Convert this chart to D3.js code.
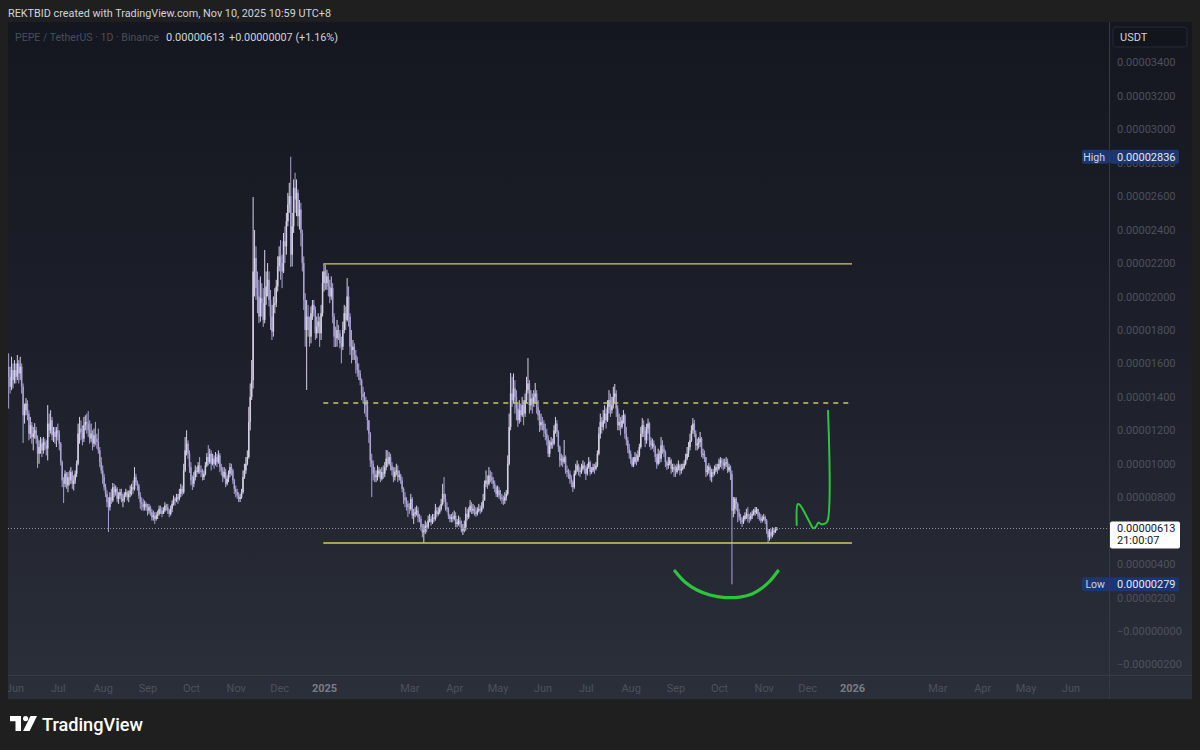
<!DOCTYPE html>
<html>
<head>
<meta charset="utf-8">
<script src="https://cdn.jsdelivr.net/npm/d3@7"></script>
<style>
  html, body { margin: 0; padding: 0; background: #1f1f1f; }
  svg { display: block; }
  text { font-family: Roboto, "Noto Sans", "Liberation Sans", sans-serif; }
</style>
</head>
<body>
<svg id="chart" width="1200" height="750"></svg>
<script>
// PEPE / TetherUS daily candles, prices in units of 1e-8 USDT.
const startDate = "2024-05-28";
const firstOpen = 1580;

const closes = [
  1520,1460,1560,1500,
  1560,1520,1600,1540,1580,1460,1290,1320,1360,1300,1180,1230,1160,1180,1200,1150,1060,1100,1120,1080,1130,1110,1090,1240,1200,1260,1170,1190,1160,1200,
  1180,1120,1010,900,880,940,870,920,900,950,880,900,940,1000,1180,1210,1190,1150,1230,1250,1240,1200,1150,1180,1120,1170,1150,1130,1080,1010,960,
  920,860,820,770,740,800,780,860,830,850,790,810,830,780,790,810,830,800,820,840,860,850,920,890,870,810,770,760,740,760,740,
  720,740,710,680,690,670,690,700,730,720,700,720,750,740,720,700,730,760,790,780,800,790,820,850,830,960,1080,1120,1060,980,
  900,880,920,960,950,990,960,950,920,940,990,1040,1010,1060,1000,1030,1000,1040,1010,1050,980,960,920,950,880,910,940,980,960,900,850,
  830,810,790,800,830,920,960,1000,1040,1250,1400,1500,2150,2230,2050,2000,1880,1990,1960,1860,2000,2060,2100,1980,1880,1790,1950,1960,2060,2180,
  2240,2200,2150,2330,2300,2450,2550,2600,2250,2420,2650,2580,2620,2480,2520,2380,2200,1980,1800,1880,1800,1760,1900,1950,1920,1780,1820,1850,1780,1900,2080,
  2150,2080,2120,2060,2000,2050,1880,1760,1750,1800,1780,1720,1700,1800,1900,1860,2000,1880,1700,1680,1700,1650,1600,1560,1540,1500,1420,1400,1380,1350,1260,
  1180,1020,1000,940,920,930,940,960,910,950,940,980,1030,1000,1040,990,960,920,950,960,920,930,900,850,800,780,760,740,
  730,790,690,700,710,720,680,670,620,590,600,630,620,660,670,650,680,670,720,700,710,730,760,820,790,740,730,690,670,680,670,
  690,640,650,660,640,600,610,620,700,680,720,750,720,730,710,700,720,730,720,740,780,880,900,880,930,920,900,880,860,820,
  840,810,800,790,780,800,820,1000,1220,1420,1380,1450,1400,1330,1260,1320,1290,1350,1300,1380,1440,1480,1350,1390,1360,1400,1420,1340,1290,1230,1250,
  1240,1200,1180,1150,1060,1110,1130,1120,1200,1240,1190,1100,1020,1030,1010,1040,960,950,940,910,890,860,940,960,990,960,950,970,990,970,
  940,980,1010,950,960,980,970,990,1060,1180,1250,1220,1260,1300,1260,1340,1380,1320,1350,1400,1420,1330,1230,1250,1220,1260,1290,1180,1140,1090,1060,
  1030,990,1010,1040,1020,1050,1100,1180,1230,1200,1140,1210,1240,1140,1110,1120,1100,1040,1000,1060,1030,1110,1090,1070,1010,990,1000,1020,970,980,960,
  950,980,990,960,970,980,1000,1030,1060,1100,1140,1200,1240,1180,1110,1120,1130,1150,1060,1060,1040,950,960,980,920,950,940,960,980,970,
  1000,1020,1010,990,1000,1010,960,980,940,720,730,790,760,710,680,660,650,670,690,700,680,670,690,700,710,720,730,690,680,660,670,
  680,660,600,560,590,570,600,590,606,613
];

const highs = [
  1660,1580,1640,1600,
  1620,1600,1650,1620,1640,1600,1480,1360,1393,1380,1320,1280,1250,1220,1243,1220,1170,1140,1160,1150,1160,1150,1140,1351,1300,1320,1280,1220,1220,1220,
  1240,1200,1130,1020,920,960,950,950,960,980,960,930,960,1020,1240,1280,1260,1230,1280,1290,1300,1315,1260,1240,1200,1210,1250,1180,1210,1100,1040,
  990,940,880,840,800,830,850,885,880,870,860,830,850,850,820,830,850,840,840,870,880,900,980,940,900,880,830,800,790,780,770,
  760,760,750,730,720,710,710,720,750,750,740,740,770,760,760,730,750,780,810,800,820,820,850,880,870,1000,1160,1200,1140,1080,
  1010,930,950,990,980,1010,1040,990,970,960,1010,1064,1112,1090,1080,1060,1050,1070,1060,1080,1064,1000,980,980,970,930,960,1004,1000,970,910,
  870,850,830,820,850,960,1000,1040,1080,1340,1480,1620,2595,2398,2300,2150,2100,2120,2080,2050,2278,2150,2200,2150,2039,1950,2000,2050,2100,2240,
  2300,2338,2250,2380,2420,2500,2620,2680,2836,2500,2700,2740,2700,2640,2577,2560,2400,2240,2020,1979,1950,1880,1940,1979,1980,1940,1880,1900,1880,1950,2150,
  2195,2190,2160,2140,2100,2120,2080,1900,1820,1860,1830,1800,1760,1850,1950,1940,2110,2060,1900,1800,1740,1720,1680,1640,1600,1560,1510,1460,1430,1400,1380,
  1260,1190,1060,1020,980,960,990,980,970,980,990,1010,1082,1080,1070,1060,1010,980,980,1000,990,960,940,920,860,830,800,780,
  765,820,800,730,740,750,740,700,690,640,640,660,650,690,700,690,700,700,760,740,740,750,790,880,921,820,770,740,700,700,710,
  720,710,670,690,680,660,640,660,741,730,740,783,770,760,750,740,740,760,750,770,820,900,960,930,980,960,950,920,900,870,
  870,860,843,820,810,830,843,1050,1300,1543,1520,1540,1500,1440,1360,1380,1360,1400,1380,1420,1520,1632,1500,1440,1420,1440,1483,1440,1380,1320,1300,
  1280,1260,1240,1210,1170,1140,1160,1150,1230,1280,1260,1200,1110,1060,1050,1142,1050,990,970,960,930,900,960,1000,1020,1000,980,1000,1020,1010,
  990,1000,1040,1020,980,1000,1000,1010,1080,1220,1300,1280,1321,1350,1330,1380,1440,1420,1400,1460,1477,1440,1350,1300,1280,1290,1321,1300,1220,1160,1120,
  1080,1040,1040,1070,1060,1080,1120,1220,1273,1260,1220,1240,1270,1250,1160,1150,1140,1110,1060,1090,1080,1160,1140,1110,1080,1020,1040,1040,1030,1000,1000,
  990,1000,1020,1000,1000,1000,1020,1060,1100,1130,1180,1230,1273,1262,1200,1150,1160,1190,1160,1090,1080,1040,990,1004,990,970,970,990,1000,1000,
  1030,1040,1034,1030,1030,1040,1030,1000,990,960,801,801,800,770,730,700,680,690,710,730,741,700,710,720,730,741,741,730,710,700,690,
  700,690,670,610,610,610,620,615,622,622
];

const lows = [
  1330,1420,1440,1450,
  1480,1480,1500,1480,1500,1420,1124,1240,1290,1260,1140,1150,1120,1080,1150,1120,975,1000,1060,1040,1060,1080,1050,1020,1160,1180,1140,1130,1120,1100,
  1140,1080,990,860,765,860,850,830,870,880,850,840,880,920,990,1120,1140,1110,1130,1200,1180,1160,1120,1130,1080,1100,1110,1090,1060,980,940,
  880,840,800,740,592,720,760,770,800,810,770,760,790,770,740,770,800,780,770,800,810,820,840,870,840,790,730,720,720,720,720,
  690,700,690,660,660,640,660,670,690,700,680,700,710,720,700,680,690,710,750,750,770,760,780,800,810,820,950,1050,1030,945,
  870,843,860,900,920,940,940,920,900,903,930,980,990,1000,960,990,970,990,980,1000,950,930,890,910,860,870,890,920,930,880,820,
  800,790,771,771,790,820,910,940,990,1030,1200,1381,1450,2000,1980,1900,1840,1850,1880,1818,1840,1950,2000,1940,1800,1740,1760,1900,1937,2030,
  2150,2100,2050,2140,2200,2250,2420,2500,2176,2180,2380,2500,2480,2420,2400,2300,2150,1919,1700,1441,1760,1700,1720,1860,1880,1740,1750,1780,1698,1740,1880,
  2030,2040,2040,2000,1960,1980,1840,1698,1698,1700,1740,1690,1600,1680,1780,1800,1850,1820,1650,1600,1620,1620,1540,1520,1500,1470,1380,1360,1300,1280,1200,
  1124,980,801,900,890,890,900,920,890,900,910,920,960,980,990,960,930,890,900,930,890,900,880,830,760,740,720,682,
  700,720,670,640,680,690,650,650,600,560,528,580,590,610,650,630,640,650,660,680,690,700,720,750,770,720,710,670,650,650,650,
  660,620,620,630,620,590,574,590,600,660,670,710,700,700,690,682,690,710,700,710,730,780,860,850,870,890,880,850,830,801,
  800,790,780,760,753,760,780,810,990,1200,1340,1360,1300,1260,1220,1240,1250,1280,1230,1280,1360,1420,1300,1320,1300,1340,1360,1300,1260,1190,1200,
  1200,1160,1140,1110,1040,1040,1090,1090,1110,1180,1160,1070,980,990,980,1000,940,920,910,880,860,831,850,930,950,930,921,940,960,940,
  903,930,970,930,940,950,940,960,980,1050,1150,1180,1200,1240,1210,1250,1300,1280,1300,1330,1360,1280,1200,1200,1170,1210,1240,1150,1110,1064,1030,
  1000,980,980,1000,990,1010,1040,1090,1160,1160,1100,1120,1180,1100,1082,1090,1070,1010,970,990,1000,1010,1060,1040,980,963,970,990,940,950,921,
  921,940,960,930,940,960,970,990,1020,1040,1080,1130,1180,1160,1080,1080,1090,1100,1040,1030,1010,920,930,940,900,890,920,930,950,940,
  960,980,970,960,970,980,945,950,903,279,680,700,720,650,660,640,622,640,660,670,650,645,660,670,690,690,700,670,660,645,650,
  660,640,580,526,540,550,560,575,586,600
];

// Price axis ticks (1e-8 USDT) and time axis month ticks
const priceTicks = [-200, 0, 200, 400, 600, 800, 1000, 1200, 1400, 1600, 1800, 2000, 2200, 2400, 2600, 2800, 3000, 3200, 3400];
const timeTicks = ["2024-06-01","2024-07-01","2024-08-01","2024-09-01","2024-10-01","2024-11-01","2024-12-01","2025-01-01",
  "2025-03-01","2025-04-01","2025-05-01","2025-06-01","2025-07-01","2025-08-01","2025-09-01","2025-10-01","2025-11-01","2025-12-01",
  "2026-01-01","2026-03-01","2026-04-01","2026-05-01","2026-06-01"];
const timeTickLabels = ["Jun","Jul","Aug","Sep","Oct","Nov","Dec","2025","Mar","Apr","May","Jun","Jul","Aug","Sep","Oct","Nov","Dec",
  "2026","Mar","Apr","May","Jun"];

// Range levels drawn across 2025
const levelPrices = [2195, 1363, 526];
const levelFrom = "2024-12-31T12:00";
const levelTo = "2026-01-01T00:00";

// Hand-drawn projection: rounded bottom under the October wick, and the path out of the range
const arcPoints = [
  ["2025-08-31T14:00", 359], ["2025-09-07T12:00", 293], ["2025-09-15T19:00", 245], ["2025-09-24T19:00", 215],
  ["2025-10-05T05:00", 200], ["2025-10-15T14:00", 203], ["2025-10-23T22:00", 221], ["2025-10-30T19:00", 257],
  ["2025-11-05T07:00", 299], ["2025-11-10T19:00", 359]
];
const pathPoints = [
  ["2025-11-23T19:00", 634], ["2025-11-24T12:00", 759], ["2025-11-26T00:00", 753], ["2025-11-28T07:00", 723],
  ["2025-11-30T17:00", 683], ["2025-12-03T00:00", 646], ["2025-12-05T05:00", 614], ["2025-12-07T02:00", 624],
  ["2025-12-08T17:00", 648], ["2025-12-10T10:00", 640], ["2025-12-12T14:00", 640], ["2025-12-14T22:00", 654],
  ["2025-12-15T10:00", 1317]
];

const countdown = "21:00:07";
const priceChange = 7;

if (closes.length !== highs.length || closes.length !== lows.length) {
  throw new Error("OHLC length mismatch: " + closes.length + " " + highs.length + " " + lows.length);
}

// ---------- layout ----------
const svg = d3.select("#chart");
const panel = { x0: 8, x1: 1192, y0: 22, y1: 699 };
const pane = { x0: 8, x1: 1109.5, y0: 22, y1: 675.5 };
const unit = 1e-8;
const parse = d3.utcParse("%Y-%m-%d");
const parseT = d3.utcParse("%Y-%m-%dT%H:%M");

const x = d3.scaleUtc()
  .domain([parse("2025-01-01"), parse("2026-01-01")])
  .range([324, 852]);
const y = d3.scaleLinear().domain([0, 3400]).range([631, 62.35]);

const fmtPrice = v => {
  const s = (Math.abs(v) * unit).toFixed(8);
  return v <= 0 ? "\u2212" + s : s;
};

// candles
const day0 = parse(startDate);
const bars = closes.map((c, i) => {
  const o = i === 0 ? firstOpen : closes[i - 1];
  return { date: d3.utcDay.offset(day0, i), o, c, h: Math.max(highs[i], o, c), l: Math.min(lows[i], o, c) };
});
const last = bars[bars.length - 1];

const defs = svg.append("defs");
const grad = defs.append("linearGradient").attr("id", "bg")
  .attr("gradientUnits", "userSpaceOnUse")
  .attr("x1", 0).attr("y1", panel.y0).attr("x2", 0).attr("y2", panel.y1);
grad.append("stop").attr("offset", 0).attr("stop-color", "#141720");
grad.append("stop").attr("offset", 0.5).attr("stop-color", "#1d202a");
grad.append("stop").attr("offset", 1).attr("stop-color", "#2b2f3a");

defs.append("clipPath").attr("id", "paneClip").append("rect")
  .attr("x", pane.x0).attr("y", pane.y0).attr("width", pane.x1 - pane.x0).attr("height", pane.y1 - pane.y0);
defs.append("clipPath").attr("id", "timeClip").append("rect")
  .attr("x", pane.x0).attr("y", pane.y1).attr("width", pane.x1 - pane.x0).attr("height", panel.y1 - pane.y1);

// page header
svg.append("text").attr("x", 8).attr("y", 17)
  .attr("font-size", 11.5).attr("fill", "#d1d4dc")
  .attr("textLength", 323).attr("lengthAdjust", "spacingAndGlyphs")
  .text("REKTBID created with TradingView.com, Nov 10, 2025 10:59 UTC+8");

// chart panel
svg.append("rect").attr("x", panel.x0).attr("y", panel.y0)
  .attr("width", panel.x1 - panel.x0).attr("height", panel.y1 - panel.y0)
  .attr("fill", "url(#bg)");

// axis separators
svg.append("line").attr("x1", pane.x1).attr("x2", pane.x1).attr("y1", panel.y0).attr("y2", panel.y1)
  .attr("stroke", "#363a45").attr("stroke-width", 1);
svg.append("line").attr("x1", panel.x0).attr("x2", panel.x1).attr("y1", pane.y1).attr("y2", pane.y1)
  .attr("stroke", "#363a45").attr("stroke-width", 1);

const plot = svg.append("g").attr("clip-path", "url(#paneClip)");

// candles
const upColor = "#d4d2e6", downColor = "#a9a2d6";
const cg = plot.append("g");
cg.selectAll("rect.wick").data(bars).join("rect").attr("class", "wick")
  .attr("x", d => x(d.date) - 0.5).attr("width", 1)
  .attr("y", d => y(d.h)).attr("height", d => Math.max(1, y(d.l) - y(d.h)))
  .attr("fill", d => d.c >= d.o ? upColor : downColor);
cg.selectAll("rect.body").data(bars).join("rect").attr("class", "body")
  .attr("x", d => x(d.date) - 0.75).attr("width", 1.5)
  .attr("y", d => y(Math.max(d.o, d.c))).attr("height", d => Math.max(1, Math.abs(y(d.o) - y(d.c))))
  .attr("fill", d => d.c >= d.o ? upColor : downColor);

// range levels
const lx0 = x(parseT(levelFrom)), lx1 = x(parseT(levelTo));
plot.selectAll("line.level").data(levelPrices).join("line").attr("class", "level")
  .attr("x1", lx0).attr("x2", lx1)
  .attr("y1", d => y(d)).attr("y2", d => y(d))
  .attr("stroke", (d, i) => i === 1 ? "#c9c46e" : "#d6c865")
  .attr("stroke-width", (d, i) => i === 1 ? 1.6 : 1.4)
  .attr("stroke-dasharray", (d, i) => i === 1 ? "5 5" : null);

// last price line
plot.append("line").attr("x1", pane.x0).attr("x2", pane.x1)
  .attr("y1", Math.round(y(last.c)) + 0.5).attr("y2", Math.round(y(last.c)) + 0.5)
  .attr("stroke", "#8d909a").attr("stroke-width", 1).attr("stroke-dasharray", "1 2");

// green sketch
const green = "#2cc63c";
const lineGen = d3.line().x(d => x(parseT(d[0]))).y(d => y(d[1])).curve(d3.curveCatmullRom.alpha(0.5));
plot.append("path").attr("d", lineGen(arcPoints)).attr("fill", "none")
  .attr("stroke", green).attr("stroke-width", 3.2).attr("stroke-linecap", "round");
plot.append("path").attr("d", lineGen(pathPoints)).attr("fill", "none")
  .attr("stroke", green).attr("stroke-width", 2).attr("stroke-linecap", "round").attr("stroke-linejoin", "round");

// price axis; the scale hides a tick label that sits under the last-price tag
const lastY = y(last.c);
const yAxis = d3.axisRight(y).tickValues(priceTicks).tickSize(0).tickPadding(7.5).tickFormat(fmtPrice);
const ya = svg.append("g").attr("transform", `translate(${pane.x1},0)`).call(yAxis);
ya.select(".domain").remove();
ya.selectAll(".tick").filter(d => Math.abs(y(d) - (lastY + 6)) < 15).remove();
ya.selectAll("text").attr("fill", "#4d515d").attr("font-size", 11);

// time axis
const tDates = timeTicks.map(parse);
const xAxis = d3.axisBottom(x).tickValues(tDates).tickSize(0).tickPadding(9)
  .tickFormat((d, i) => timeTickLabels[i]);
const xa = svg.append("g").attr("clip-path", "url(#timeClip)")
  .append("g").attr("transform", `translate(0,${pane.y1})`).call(xAxis);
xa.select(".domain").remove();
xa.selectAll("text").attr("font-size", 11)
  .attr("fill", (d, i) => /^\d{4}$/.test(timeTickLabels[i]) ? "#7a7d88" : "#4d515d")
  .attr("font-weight", (d, i) => /^\d{4}$/.test(timeTickLabels[i]) ? 700 : 400);

// high / low markers on the price scale
const hiVal = d3.max(bars, d => d.h), loVal = d3.min(bars, d => d.l);
function extremeTag(label, v) {
  const cy = y(v);
  const g = svg.append("g");
  g.append("rect").attr("x", 1082).attr("y", cy - 7).attr("width", 27).attr("height", 14).attr("rx", 2).attr("fill", "#1c3670");
  g.append("text").attr("x", 1105).attr("y", cy + 4).attr("text-anchor", "end")
    .attr("font-size", 10.5).attr("fill", "#d1d4dc").text(label);
  g.append("rect").attr("x", 1110).attr("y", cy - 7).attr("width", 69).attr("height", 14).attr("rx", 2).attr("fill", "#1c3670");
  g.append("text").attr("x", 1117).attr("y", cy + 4)
    .attr("font-size", 11).attr("fill", "#e6e8ee").text(fmtPrice(v));
}
extremeTag("High", hiVal);
extremeTag("Low", loVal);

// last price tag with countdown
const tag = svg.append("g");
tag.append("rect").attr("x", 1110).attr("y", lastY - 7).attr("width", 70).attr("height", 27).attr("rx", 2)
  .attr("fill", "#ffffff");
tag.append("text").attr("x", 1117).attr("y", lastY + 4).attr("font-size", 11).attr("fill", "#131722").text(fmtPrice(last.c));
tag.append("text").attr("x", 1117).attr("y", lastY + 16).attr("font-size", 11).attr("fill", "#131722").text(countdown);

// currency box
svg.append("rect").attr("x", 1113).attr("y", 27).attr("width", 74).attr("height", 20).attr("rx", 3)
  .attr("fill", "#12151c").attr("stroke", "#262a34");
svg.append("text").attr("x", 1120).attr("y", 41).attr("font-size", 11).attr("fill", "#d1d4dc").text("USDT");

// legend
const prevClose = bars[bars.length - 2].c;
const pct = (last.c - prevClose) / prevClose * 100;
svg.append("text").attr("x", 15).attr("y", 41).attr("font-size", 11)
  .attr("fill", "#4a4e5a").attr("textLength", 144).attr("lengthAdjust", "spacingAndGlyphs")
  .text("PEPE / TetherUS \u00b7 1D \u00b7 Binance");
svg.append("text").attr("x", 166).attr("y", 41).attr("font-size", 11)
  .attr("fill", "#d1d4dc").text(fmtPrice(last.c));
svg.append("text").attr("x", 229).attr("y", 41).attr("font-size", 11)
  .attr("fill", "#d1d4dc").attr("textLength", 109).attr("lengthAdjust", "spacingAndGlyphs")
  .text("+" + (priceChange * unit).toFixed(8) + " (+" + pct.toFixed(2) + "%)");

// TradingView logo
const logo = svg.append("g").attr("transform", "translate(10,716)").attr("fill", "#ffffff");
logo.append("path").attr("d", "M0 0 H11 V15 H5.5 V5.2 H0 Z");
logo.append("circle").attr("cx", 15.6).attr("cy", 2.6).attr("r", 2.6);
logo.append("path").attr("d", "M20.5 0 H27 L19.6 15 H13.1 Z");
svg.append("text").attr("x", 42).attr("y", 731).attr("font-size", 19).attr("font-weight", 500)
  .attr("fill", "#ffffff").attr("textLength", 101).attr("lengthAdjust", "spacingAndGlyphs")
  .text("TradingView");
</script>
</body>
</html>
